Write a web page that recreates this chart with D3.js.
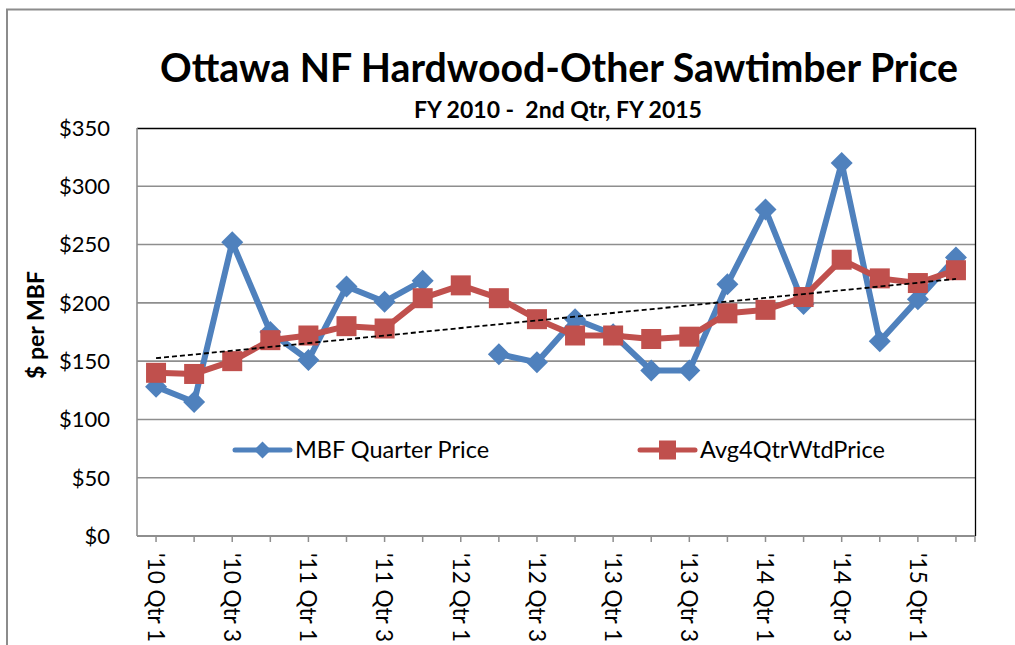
<!DOCTYPE html>
<html>
<head>
<meta charset="utf-8">
<script src="https://cdn.jsdelivr.net/npm/d3@7"></script>
<style>
  body { margin: 0; background: #fff; }
  svg { display: block; font-family: Lato, "Open Sans", sans-serif; }
</style>
</head>
<body>
<svg id="chart" width="1015" height="645"></svg>
<script>
// quarters shown on the axis, FY2010 Q1 .. FY2015 Q2
var quarters = ["'10 Qtr 1", "'10 Qtr 2", "'10 Qtr 3", "'10 Qtr 4",
                "'11 Qtr 1", "'11 Qtr 2", "'11 Qtr 3", "'11 Qtr 4",
                "'12 Qtr 1", "'12 Qtr 2", "'12 Qtr 3", "'12 Qtr 4",
                "'13 Qtr 1", "'13 Qtr 2", "'13 Qtr 3", "'13 Qtr 4",
                "'14 Qtr 1", "'14 Qtr 2", "'14 Qtr 3", "'14 Qtr 4",
                "'15 Qtr 1", "'15 Qtr 2"];

// MBF Quarter Price (null = no sale that quarter)
var mbfPrice = [128, 115, 252, 175, 151, 214, 201, 219, null, 156, 149,
                186, 173, 142, 142, 216, 280, 199, 320, 167, 203, 239];

// Avg4QtrWtdPrice
var avgPrice = [140, 139, 150, 168, 172, 180, 178, 204, 215, 204, 186,
                172, 172, 169, 171, 191, 194, 205, 237, 221, 217, 228];

// linear trendline of the quarter price, first and last quarter
var trendEnds = [152.5, 220.5];

var yTicks = [0, 50, 100, 150, 200, 250, 300, 350];

var svg = d3.select("#chart"),
    plotL = 137, plotR = 975, plotT = 128, plotB = 536;

var blue = "#4f81bd", red = "#c0504d";

// outer chart frame
svg.append("path")
    .attr("d", "M7,645V9.5H1015")
    .attr("fill", "none")
    .attr("stroke", "#8c8c8c")
    .attr("stroke-width", 2);

var x = d3.scaleBand().domain(quarters).range([plotL, plotR]).padding(0);
var y = d3.scaleLinear().domain([0, 350]).range([plotB, plotT]);
var cx = function(q) { return x(q) + x.bandwidth() / 2; };

// gridlines
svg.append("g").selectAll("line")
    .data(yTicks.filter(function(d) { return d > 0 && d < 350; }))
    .enter().append("line")
      .attr("x1", plotL).attr("x2", plotR)
      .attr("y1", function(d) { return y(d); })
      .attr("y2", function(d) { return y(d); })
      .attr("stroke", "#8e8e8e")
      .attr("stroke-width", 1.6);

// plot frame (top + right are dark)
svg.append("path")
    .attr("d", "M" + plotL + "," + (plotT + 0.5) + "H" + (plotR + 0.5) + "V" + plotB)
    .attr("fill", "none").attr("stroke", "#000").attr("stroke-width", 1.3);

// y axis
svg.append("line")
    .attr("x1", plotL).attr("x2", plotL).attr("y1", plotT).attr("y2", plotB)
    .attr("stroke", "#8e8e8e").attr("stroke-width", 1.6);

svg.append("g").selectAll("text")
    .data(yTicks)
    .enter().append("text")
      .attr("x", 110)
      .attr("y", function(d) { return y(d); })
      .attr("dy", "0.36em")
      .attr("text-anchor", "end")
      .attr("font-size", 22)
      .attr("fill", "#000")
      .text(function(d) { return "$" + d; });

svg.append("text")
    .attr("transform", "translate(44,325) rotate(-90)")
    .attr("text-anchor", "middle")
    .attr("font-size", 23)
    .attr("font-weight", "bold")
    .text("$ per MBF");

// x axis
svg.append("line")
    .attr("x1", plotL).attr("x2", plotR).attr("y1", plotB).attr("y2", plotB)
    .attr("stroke", "#8e8e8e").attr("stroke-width", 2);

svg.append("g").selectAll("line")
    .data(quarters)
    .enter().append("line")
      .attr("x1", function(d) { return cx(d); })
      .attr("x2", function(d) { return cx(d); })
      .attr("y1", plotB).attr("y2", plotB + 6)
      .attr("stroke", "#8e8e8e").attr("stroke-width", 1.5);

svg.append("line")
    .attr("x1", plotR).attr("x2", plotR).attr("y1", plotB).attr("y2", plotB + 6)
    .attr("stroke", "#8e8e8e").attr("stroke-width", 1.5);

svg.append("g").selectAll("text")
    .data(quarters.filter(function(d, i) { return i % 2 === 0; }))
    .enter().append("text")
      .attr("transform", function(d) { return "translate(" + cx(d) + ",553) rotate(90)"; })
      .attr("dy", "0.36em")
      .attr("font-size", 22.5)
      .text(function(d) { return d; });

// series
var mbf = quarters.map(function(q, i) { return { q: q, v: mbfPrice[i] }; });
var avg = quarters.map(function(q, i) { return { q: q, v: avgPrice[i] }; });

var line = d3.line()
    .defined(function(d) { return d.v != null; })
    .x(function(d) { return cx(d.q); })
    .y(function(d) { return y(d.v); });

svg.append("path")
    .datum(mbf)
    .attr("d", line)
    .attr("fill", "none")
    .attr("stroke", blue)
    .attr("stroke-width", 6)
    .attr("stroke-linejoin", "round");

svg.append("g").selectAll("path")
    .data(mbf.filter(function(d) { return d.v != null; }))
    .enter().append("path")
      .attr("transform", function(d) { return "translate(" + cx(d.q) + "," + y(d.v) + ")"; })
      .attr("d", "M0,-11L11,0L0,11L-11,0Z")
      .attr("fill", blue);

svg.append("path")
    .datum(avg)
    .attr("d", line)
    .attr("fill", "none")
    .attr("stroke", red)
    .attr("stroke-width", 6)
    .attr("stroke-linejoin", "round");

svg.append("g").selectAll("rect")
    .data(avg)
    .enter().append("rect")
      .attr("x", function(d) { return cx(d.q) - 10; })
      .attr("y", function(d) { return y(d.v) - 10; })
      .attr("width", 20).attr("height", 20)
      .attr("fill", red);

// trendline
svg.append("line")
    .attr("x1", cx(quarters[0])).attr("y1", y(trendEnds[0]))
    .attr("x2", cx(quarters[quarters.length - 1])).attr("y2", y(trendEnds[1]))
    .attr("stroke", "#000")
    .attr("stroke-width", 1.8)
    .attr("stroke-dasharray", "5,3");

// legend
var legend = [
  { name: "MBF Quarter Price", color: blue, x0: 235, shape: "diamond" },
  { name: "Avg4QtrWtdPrice", color: red, x0: 640, shape: "square" }
];
var lg = svg.append("g").selectAll("g")
    .data(legend)
    .enter().append("g")
      .attr("transform", function(d) { return "translate(" + d.x0 + ",450)"; });

lg.append("line")
    .attr("x1", 0).attr("x2", 55)
    .attr("stroke", function(d) { return d.color; })
    .attr("stroke-width", 5)
    .attr("stroke-linecap", "round");

lg.append("path")
    .attr("d", function(d) {
      return d.shape === "diamond" ? "M27.5,-8.5L36,0L27.5,8.5L19,0Z" : "M19,-9.5H36V9.5H19Z";
    })
    .attr("fill", function(d) { return d.color; });

lg.append("text")
    .attr("x", 60)
    .attr("dy", "0.36em")
    .attr("font-size", 23.5)
    .text(function(d) { return d.name; });

// titles
var title = svg.append("text")
    .attr("x", 559).attr("y", 82)
    .attr("text-anchor", "middle")
    .attr("font-size", 40)
    .attr("font-weight", "bold")
    .text("Ottawa NF Hardwood-Other Sawtimber Price");
if (title.node().getComputedTextLength() > 798) {
  title.attr("textLength", 798).attr("lengthAdjust", "spacingAndGlyphs");
}

svg.append("text")
    .attr("x", 558).attr("y", 118)
    .attr("text-anchor", "middle")
    .attr("font-size", 23)
    .attr("font-weight", "bold")
    .attr("xml:space", "preserve")
    .style("white-space", "pre")
    .text("FY 2010 -  2nd Qtr, FY 2015");
</script>
</body>
</html>
